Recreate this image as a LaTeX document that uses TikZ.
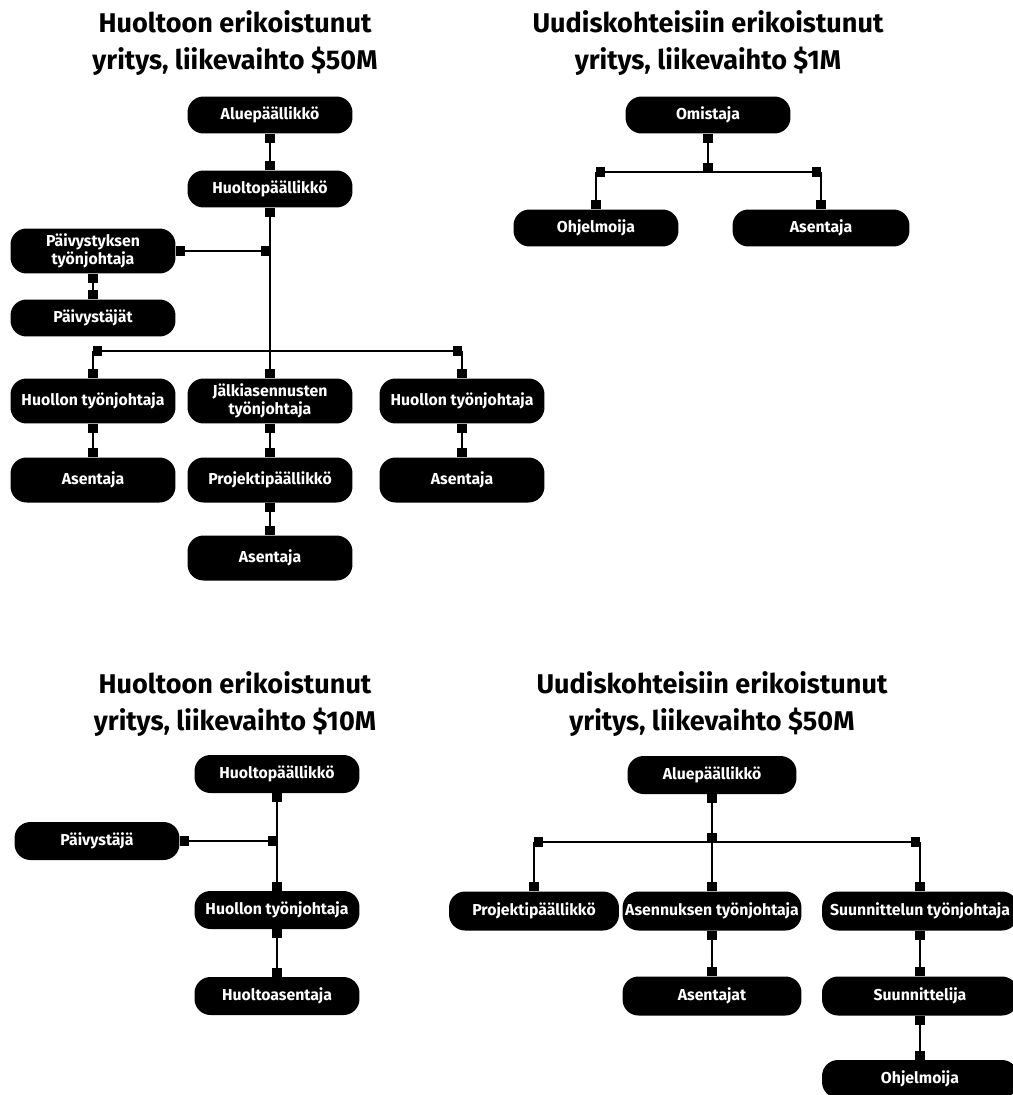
\documentclass[tikz,border=0pt]{standalone}
\usepackage{fontspec}
\setmainfont{Fira Sans}
\usetikzlibrary{arrows.meta}
\tikzset{
    rolenode/.style={
        rectangle,
        fill=black, % 黑色填充
        text=white,
        rounded corners=0.32cm,
        minimum width=3.3cm,
        minimum height=0.74cm,
        inner sep=0,
        align=center,
        font=\bfseries\fontsize{9}{10.5}\selectfont
    },
    tallnode/.style={
        rolenode,
        minimum height=0.9cm
    },
    titlenode/.style={
        align=center,
        font=\bfseries\fontsize{15.4}{21.5}\selectfont
    },
    link/.style={line width=1.3pt},
    sqend/.style={link, -{Square[length=5.2pt,width=5.2pt]}},
    sqboth/.style={link, {Square[length=5.2pt,width=5.2pt]}-{Square[length=5.2pt,width=5.2pt]}}
}
\begin{document}
\begin{tikzpicture}[x=0.02cm, y=-0.02cm]
    \clip (0,0) rectangle (1013,1095);

    % 左上：huolto, $50M
    \node[titlenode] (t1) at (235,43) {Huoltoon erikoistunut\\yritys, liikevaihto \$50M};
    \node[rolenode] (a1) at (270,115) {Aluepäällikkö};
    \node[rolenode] (b1) at (270,189) {Huoltopäällikkö};
    \node[tallnode] (c1) at (93,251) {Päivystyksen\\työnjohtaja};
    \node[rolenode] (d1) at (93,318) {Päivystäjät};
    \node[tallnode] (e1) at (93,401) {Huollon työnjohtaja};
    \node[tallnode] (f1) at (270,401) {Jälkiasennusten\\työnjohtaja};
    \node[tallnode] (g1) at (462,401) {Huollon työnjohtaja};
    \node[tallnode] (h1) at (93,480) {Asentaja};
    \node[tallnode] (i1) at (270,480) {Projektipäällikkö};
    \node[tallnode] (j1) at (462,480) {Asentaja};
    \node[tallnode] (k1) at (270,558) {Asentaja};
    \coordinate (c1j) at (b1.south |- c1.east);
    \coordinate (bus1) at (270,351);
    \coordinate (bus1l) at (e1.north |- bus1);
    \coordinate (bus1r) at (g1.north |- bus1);
    \draw[sqboth] (a1) -- (b1);
    \draw[sqboth] (b1) -- (f1);
    \draw[sqboth] (c1) -- (c1j);
    \draw[sqboth] (c1) -- (d1);
    \draw[sqboth] (bus1l) -- (bus1r);
    \draw[sqend] (bus1l) -- (e1);
    \draw[sqend] (bus1r) -- (g1);
    \draw[sqboth] (e1) -- (h1);
    \draw[sqboth] (f1) -- (i1);
    \draw[sqboth] (g1) -- (j1);
    \draw[sqboth] (i1) -- (k1);

    % 右上：uudiskohteet, $1M
    \node[titlenode] (t2) at (708,43) {Uudiskohteisiin erikoistunut\\yritys, liikevaihto \$1M};
    \node[rolenode] (a2) at (708,115) {Omistaja};
    \node[rolenode] (b2) at (596,228) {Ohjelmoija};
    \node[rolenode, minimum width=3.54cm] (c2) at (821,228) {Asentaja};
    \coordinate (bus2) at (708,172);
    \coordinate (bus2l) at (b2.north |- bus2);
    \coordinate (bus2r) at (c2.north |- bus2);
    \draw[sqboth] (a2) -- (bus2);
    \draw[sqboth] (bus2l) -- (bus2r);
    \draw[sqend] (bus2l) -- (b2);
    \draw[sqend] (bus2r) -- (c2);

    % 左下：huolto, $10M
    \node[titlenode] (t3) at (235,704) {Huoltoon erikoistunut\\yritys, liikevaihto \$10M};
    \node[rolenode, minimum height=0.76cm] (a3) at (277,774) {Huoltopäällikkö};
    \node[rolenode, minimum height=0.76cm] (b3) at (97,841) {Päivystäjä};
    \node[rolenode, minimum height=0.76cm] (c3) at (277,910) {Huollon työnjohtaja};
    \node[rolenode, minimum height=0.76cm] (d3) at (277,996) {Huoltoasentaja};
    \coordinate (b3j) at (a3.south |- b3.east);
    \draw[sqboth] (a3) -- (c3);
    \draw[sqboth] (b3) -- (b3j);
    \draw[sqboth] (c3) -- (d3);

    % 右下：uudiskohteet, $50M
    \node[titlenode] (t4) at (712,704) {Uudiskohteisiin erikoistunut\\yritys, liikevaihto \$50M};
    \node[rolenode, minimum width=3.38cm, minimum height=0.76cm] (a4) at (712,775) {Aluepäällikkö};
    \node[rolenode, minimum width=3.4cm, minimum height=0.78cm] (b4) at (534,911) {Projektipäällikkö};
    \node[rolenode, minimum width=3.58cm, minimum height=0.78cm] (c4) at (712,911) {Asennuksen työnjohtaja};
    \node[rolenode, minimum width=3.92cm, minimum height=0.78cm] (d4) at (920,911) {Suunnittelun työnjohtaja};
    \node[rolenode, minimum width=3.58cm, minimum height=0.78cm] (e4) at (712,996) {Asentajat};
    \node[rolenode, minimum width=3.92cm, minimum height=0.78cm] (f4) at (920,996) {Suunnittelija};
    \node[rolenode, minimum width=3.92cm, minimum height=0.76cm] (g4) at (920,1079) {Ohjelmoija};
    \coordinate (bus4) at (712,842);
    \coordinate (bus4l) at (b4.north |- bus4);
    \coordinate (bus4r) at (d4.north |- bus4);
    \draw[sqboth] (a4) -- (bus4);
    \draw[sqend] (bus4) -- (c4);
    \draw[sqboth] (bus4l) -- (bus4r);
    \draw[sqend] (bus4l) -- (b4);
    \draw[sqend] (bus4r) -- (d4);
    \draw[sqboth] (c4) -- (e4);
    \draw[sqboth] (d4) -- (f4);
    \draw[sqboth] (f4) -- (g4);
\end{tikzpicture}
\end{document}
